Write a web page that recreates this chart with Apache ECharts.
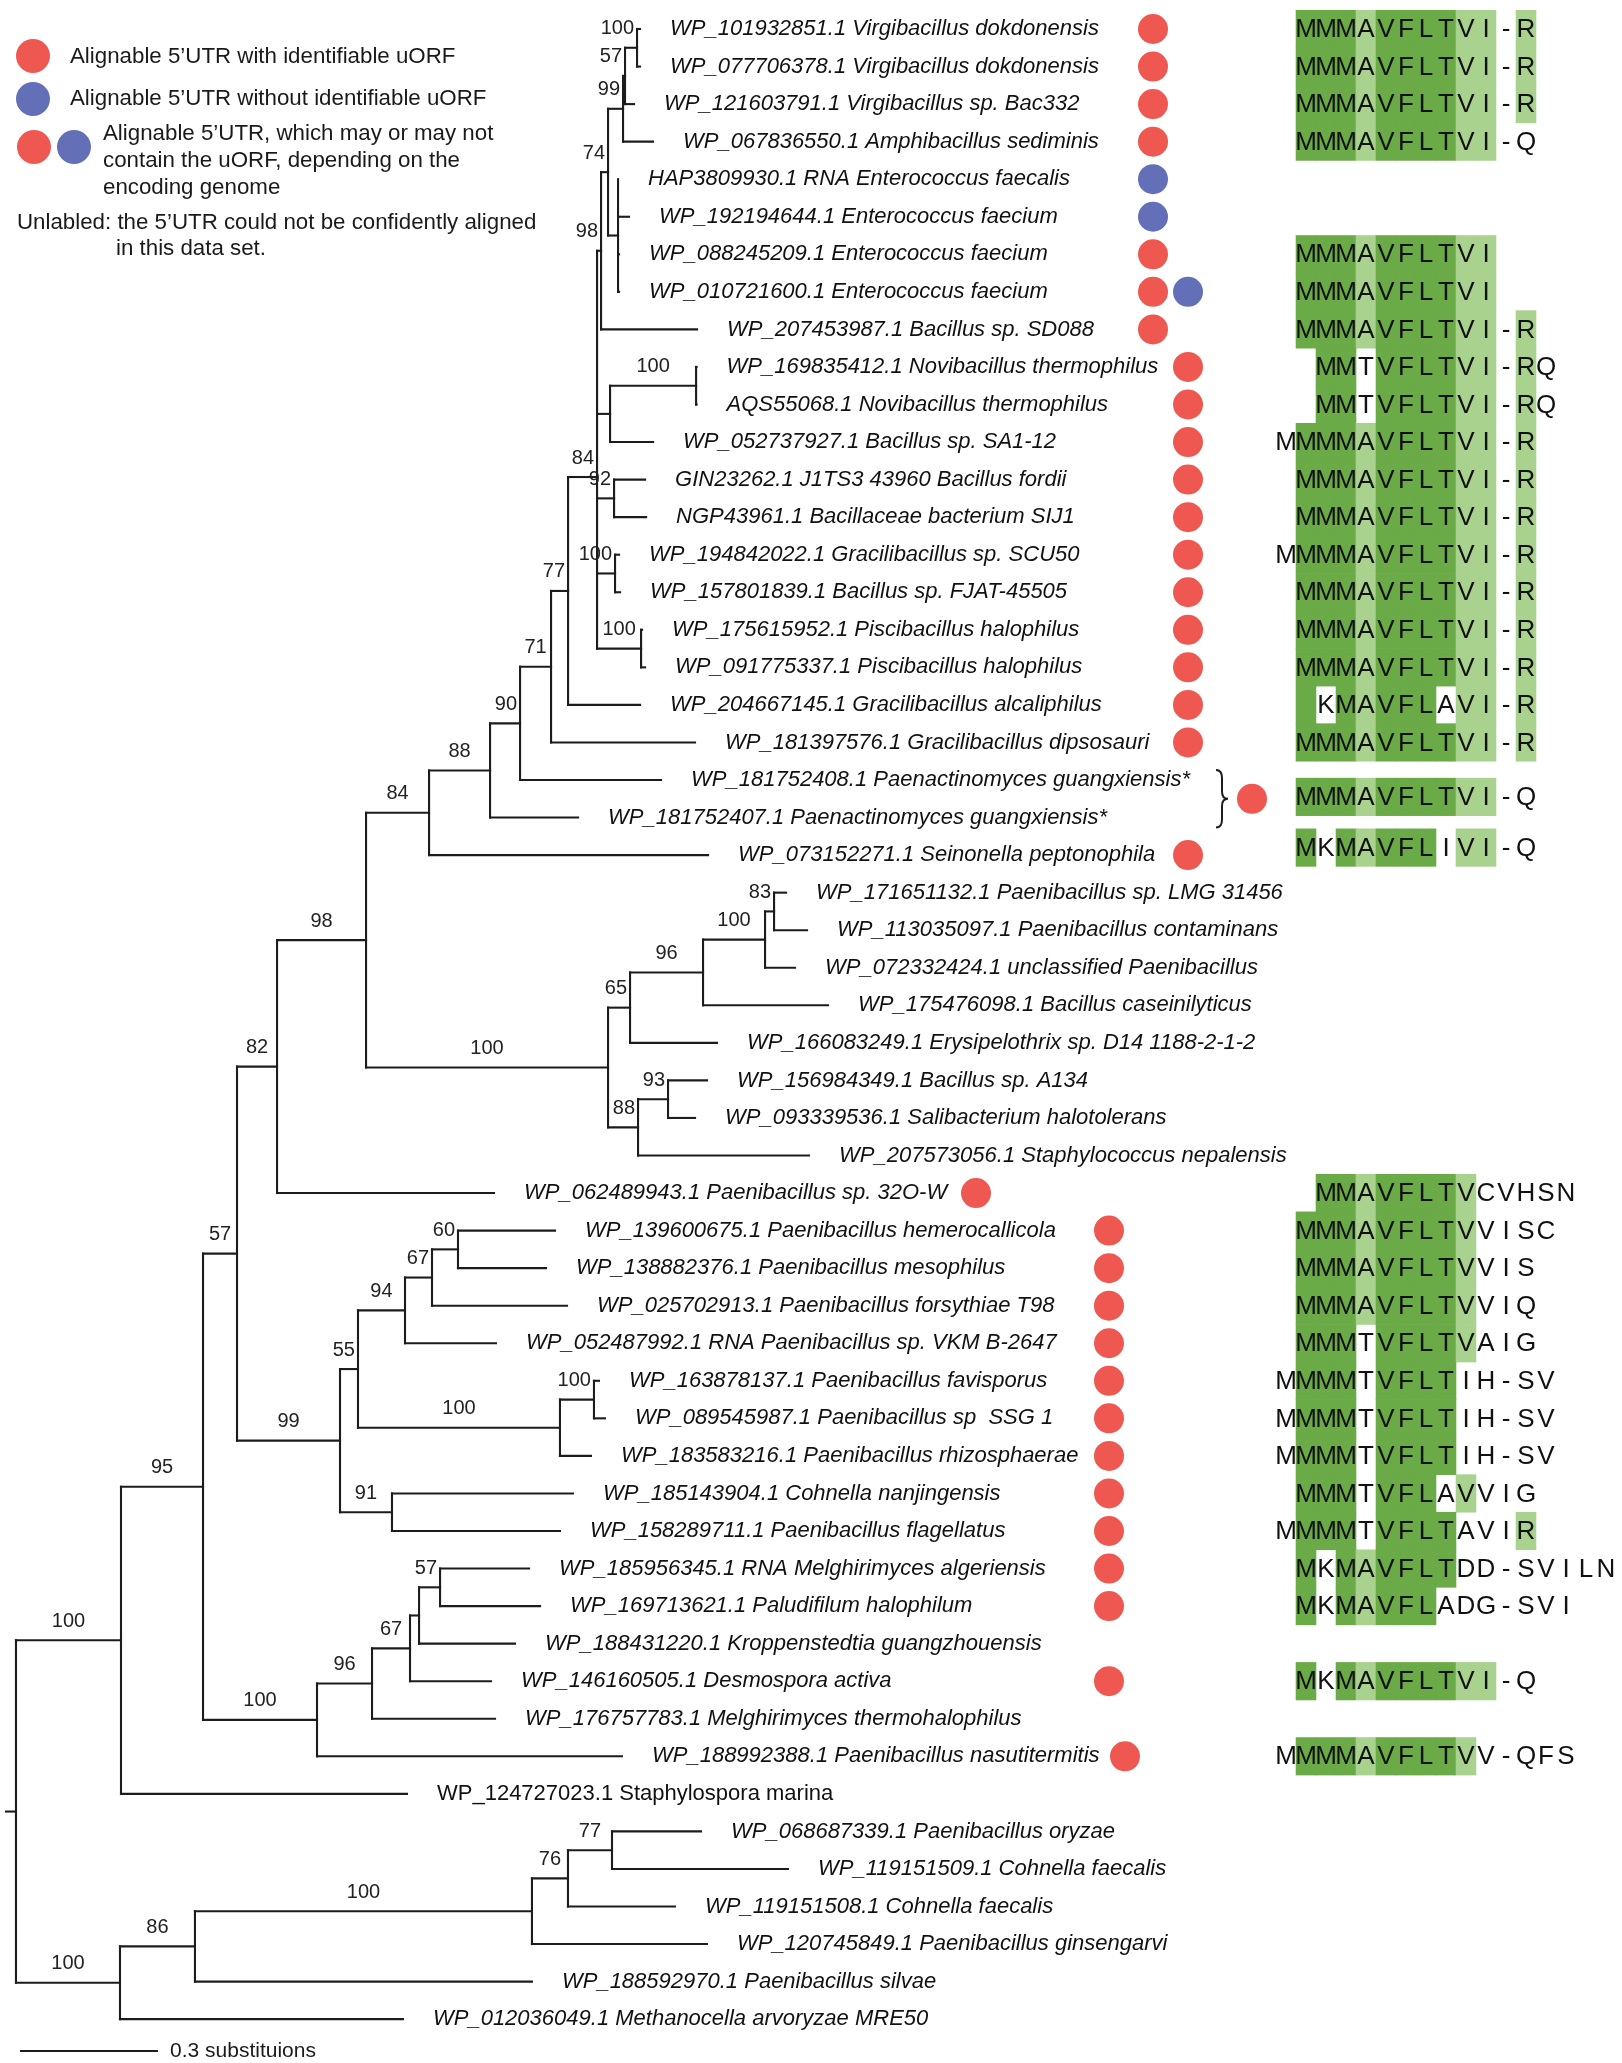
<!DOCTYPE html>
<html><head><meta charset="utf-8">
<script src="https://cdn.jsdelivr.net/npm/echarts@6/dist/echarts.min.js"></script>
<style>html,body{margin:0;padding:0;background:#fff}#chart{width:1622px;height:2063px}</style>
</head><body><div id="chart"></div>
<script>
// ===================== DATA =====================
const LEAF_NAMES = [
"WP_101932851.1 Virgibacillus dokdonensis","WP_077706378.1 Virgibacillus dokdonensis","WP_121603791.1 Virgibacillus sp. Bac332","WP_067836550.1 Amphibacillus sediminis",
"HAP3809930.1 RNA Enterococcus faecalis","WP_192194644.1 Enterococcus faecium","WP_088245209.1 Enterococcus faecium","WP_010721600.1 Enterococcus faecium",
"WP_207453987.1 Bacillus sp. SD088","WP_169835412.1 Novibacillus thermophilus","AQS55068.1 Novibacillus thermophilus","WP_052737927.1 Bacillus sp. SA1-12",
"GIN23262.1 J1TS3 43960 Bacillus fordii","NGP43961.1 Bacillaceae bacterium SIJ1","WP_194842022.1 Gracilibacillus sp. SCU50","WP_157801839.1 Bacillus sp. FJAT-45505",
"WP_175615952.1 Piscibacillus halophilus","WP_091775337.1 Piscibacillus halophilus","WP_204667145.1 Gracilibacillus alcaliphilus","WP_181397576.1 Gracilibacillus dipsosauri",
"WP_181752408.1 Paenactinomyces guangxiensis*","WP_181752407.1 Paenactinomyces guangxiensis*","WP_073152271.1 Seinonella peptonophila","WP_171651132.1 Paenibacillus sp. LMG 31456",
"WP_113035097.1 Paenibacillus contaminans","WP_072332424.1 unclassified Paenibacillus","WP_175476098.1 Bacillus caseinilyticus","WP_166083249.1 Erysipelothrix sp. D14 1188-2-1-2",
"WP_156984349.1 Bacillus sp. A134","WP_093339536.1 Salibacterium halotolerans","WP_207573056.1 Staphylococcus nepalensis","WP_062489943.1 Paenibacillus sp. 32O-W",
"WP_139600675.1 Paenibacillus hemerocallicola","WP_138882376.1 Paenibacillus mesophilus","WP_025702913.1 Paenibacillus forsythiae T98","WP_052487992.1 RNA Paenibacillus sp. VKM B-2647",
"WP_163878137.1 Paenibacillus favisporus","WP_089545987.1 Paenibacillus sp  SSG 1","WP_183583216.1 Paenibacillus rhizosphaerae","WP_185143904.1 Cohnella nanjingensis",
"WP_158289711.1 Paenibacillus flagellatus","WP_185956345.1 RNA Melghirimyces algeriensis","WP_169713621.1 Paludifilum halophilum","WP_188431220.1 Kroppenstedtia guangzhouensis",
"WP_146160505.1 Desmospora activa","WP_176757783.1 Melghirimyces thermohalophilus","WP_188992388.1 Paenibacillus nasutitermitis","WP_124727023.1 Staphylospora marina",
"WP_068687339.1 Paenibacillus oryzae","WP_119151509.1 Cohnella faecalis","WP_119151508.1 Cohnella faecalis","WP_120745849.1 Paenibacillus ginsengarvi",
"WP_188592970.1 Paenibacillus silvae","WP_012036049.1 Methanocella arvoryzae MRE50"
];
const UPRIGHT_LEAVES = [47];
// R = uORF found, B = no uORF, RB = depends on genome, '' = not aligned
const LEAF_DOTS = ['R','R','R','R','B','B','R','RB','R',
  'R','R','R','R','R','R','R','R','R','R','R',
  '','','R',
  '','','','','','','','',
  'R',
  'R','R','R','R','R','R','R','R','R','R','R',
  '','R','','R',
  '','','','','','',''];
const BRACKET_GROUPS = [{rows:[20,21], dot:'R'}];

// Tree (Newick, leaf ids = row order, internal labels = bootstrap support)
const CLADE_VIRGI = "((((0:0.0065,1:0.0065)100:0.0261,2:0.0196)57:0.0043,3:0.0652)99:0.0326,(4:0,5:0.0239,6:0.0022,7:0.0022):0.0217)74";
const CLADE_BACILL = `((${CLADE_VIRGI}:0.0152,8:0.2087)98:0.0087,((9:0.001,10:0.001)100:0.1870,11:0.0935):0.0283,(12:0.0674,13:0.0696)92:0.0370,(14:0.0087,15:0.0109)100:0.0391,(16:0.0022,17:0.0087)100:0.0957)84`;
const CLADE_77 = `(${CLADE_BACILL}:0.0630,18:0.1565)77`;
const CLADE_71 = `(${CLADE_77}:0.0370,19:0.3130)71`;
const CLADE_90 = `(${CLADE_71}:0.0674,20:0.3065)90`;
const CLADE_88 = `(${CLADE_90}:0.0652,21:0.1913)88`;
const CLADE_84 = `(${CLADE_88}:0.1326,22:0.6065)84`;
const CLADE_PAENI_A = "(((((23:0.0261,24:0.0717)83:0.0196,25:0.0652)100:0.1348,26:0.2717)96:0.1587,27:0.1891)65:0.0478,((28:0.0848,29:0.0587)93:0.0652,30:0.3717)88:0.0652)100";
const CLADE_98 = `(${CLADE_84}:0.1370,${CLADE_PAENI_A}:0.5261)98`;
const CLADE_82 = `(${CLADE_98}:0.1935,31:0.4717)82`;
const CLADE_99 = "(((((32:0.2109,33:0.1913)60:0.0565,34:0.2935)67:0.0587,35:0.1978)94:0.1022,((36:0.0109,37:0.0239)100:0.0739,38:0.0674)100:0.4391)55:0.0391,(39:0.3935,40:0.3652)91:0.1130)99";
const CLADE_57 = `(${CLADE_82}:0.0870,${CLADE_99}:0.2239)57`;
const CLADE_THERMO = "(((((41:0.1935,42:0.2174)57:0.0457,43:0.2087):0.0196,44:0.1761)67:0.0826,45:0.2674)96:0.1196,46:0.6630)100";
const CLADE_95 = `(${CLADE_57}:0.0739,${CLADE_THERMO}:0.2478)95`;
const CLADE_UPPER = `(${CLADE_95}:0.1783,47:0.6217)100`;
const CLADE_LOWER = "(((((48:0.1935,49:0.3826)77:0.0957,50:0.2326)76:0.0783,51:0.3804)100:0.7326,52:0.7326)86:0.1630,53:0.6152)100";
const TREE_NEWICK = `(${CLADE_UPPER}:0.2283,${CLADE_LOWER}:0.2261):0.0217;`;

const SCALE_BAR_LENGTH = 0.3;
const SCALE_BAR_LABEL = "0.3 substituions";

// uORF alignment (row in tree order, residues by column, conservation class D/L)
const ALIGN_ROW = [0,1,2,3,6,7,8,9,10,11,12,13,14,15,16,17,18,19,20.45,21.8,
  31,32,33,34,35,36,37,38,39,40,41,42,44,46];
const ALIGN_SEQ = [
" MMMAVFLTVI-R"," MMMAVFLTVI-R"," MMMAVFLTVI-R"," MMMAVFLTVI-Q",
" MMMAVFLTVI"," MMMAVFLTVI"," MMMAVFLTVI-R","  MMTVFLTVI-RQ","  MMTVFLTVI-RQ",
"MMMMAVFLTVI-R"," MMMAVFLTVI-R"," MMMAVFLTVI-R","MMMMAVFLTVI-R"," MMMAVFLTVI-R",
" MMMAVFLTVI-R"," MMMAVFLTVI-R","  KMAVFLAVI-R"," MMMAVFLTVI-R"," MMMAVFLTVI-Q"," MKMAVFLIVI-Q",
"  MMAVFLTVCVHSN"," MMMAVFLTVVISC"," MMMAVFLTVVIS"," MMMAVFLTVVIQ"," MMMTVFLTVAIG",
"MMMMTVFLTIH-SV","MMMMTVFLTIH-SV","MMMMTVFLTIH-SV"," MMMTVFLAVVIG","MMMMTVFLTAVIR",
" MKMAVFLTDD-SVILN"," MKMAVFLADG-SVI"," MKMAVFLTVI-Q","MMMMAVFLTVV-QFS"];
const ALIGN_CLASS = [
" DDDLDDDDLL L"," DDDLDDDDLL L"," DDDLDDDDLL L"," DDDLDDDDLL",
" DDDLDDDDLL"," DDDLDDDDLL"," DDDLDDDDLL L","  DD DDDDLL L","  DD DDDDLL L",
" DDDLDDDDLL L"," DDDLDDDDLL L"," DDDLDDDDLL L"," DDDLDDDDLL L"," DDDLDDDDLL L",
" DDDLDDDDLL L"," DDDLDDDDLL L"," D DLDDD LL L"," DDDLDDDDLL L"," DDDLDDDDLL"," D DLDDD LL",
"  DDLDDDDL"," DDDLDDDDL"," DDDLDDDDL"," DDDLDDDDL"," DDD DDDDL",
" DDD DDDD"," DDD DDDD"," DDD DDDD"," DDD DDD L"," DDD DDDD   L",
" D DLDDDD"," D DLDDD"," D DLDDDDLL"," DDDLDDDDL"];

const LEGEND_LINES = [
 "Alignable 5’UTR with identifiable uORF",
 "Alignable 5’UTR without identifiable uORF",
 "Alignable 5’UTR, which may or may not",
 "contain the uORF, depending on the",
 "encoding genome",
 "Unlabled: the 5’UTR could not be confidently aligned",
 "in this data set."];

// ===================== LAYOUT =====================
const W = 1622, H = 2063;
const PX_PER_UNIT = 460, TREE_LEFT = 6;
const ROW_H = 37.55, ROW0 = 29;
const Y_MIN = -ROW0 / ROW_H, Y_MAX = (H - ROW0) / ROW_H;
const X_MAX = (W - TREE_LEFT) / PX_PER_UNIT;
const u = px => (px - TREE_LEFT) / PX_PER_UNIT;
const ALIGN_LEFT = 1276, ALIGN_COL_W = 20, ALIGN_COLS = 17;
const RED = '#ee5850', BLUE = '#6370b8', DARK = '#6aaa47', LIGHT = '#a8d28d';
const FONT = '"Liberation Sans", Arial, Helvetica, sans-serif';
const dotColumnPx = i => i <= 8 ? 1153 : i <= 22 ? 1188 : i === 31 ? 976 : i === 46 ? 1125 : 1109;

// ===================== TREE PARSE =====================
function parseNewick(s) {
  let i = 0;
  function node() {
    const n = {children: [], label: '', length: 0};
    if (s[i] === '(') {
      i++; n.children.push(node());
      while (s[i] === ',') { i++; n.children.push(node()); }
      i++;
    }
    let lab = '';
    while (i < s.length && !',():;'.includes(s[i])) lab += s[i++];
    n.label = lab;
    if (s[i] === ':') { i++; let num = ''; while (i < s.length && !',();'.includes(s[i])) num += s[i++]; n.length = parseFloat(num); }
    return n;
  }
  return node();
}
const tree = parseNewick(TREE_NEWICK);
const SEGMENTS = [], SUPPORTS = [], TIPS = [];
(function walk(n, parentX) {
  n.x = parentX + n.length;
  if (n.children.length) {
    n.children.forEach(c => walk(c, n.x));
    n.y = n.children.reduce((s, c) => s + c.y, 0) / n.children.length;
    SEGMENTS.push([n.x, n.children[0].y, n.x, n.children[n.children.length - 1].y]);
    if (n.label) SUPPORTS.push({px: parentX, x: n.x, y: n.y, label: n.label});
  } else {
    n.y = +n.label;
    TIPS.push({x: n.x, leaf: +n.label});
  }
  SEGMENTS.push([parentX, n.y, n.x, n.y]);
})(tree, 0);

// dots
const redDots = [], blueDots = [];
LEAF_DOTS.forEach((d, i) => {
  const x = dotColumnPx(i);
  if (d === 'R') redDots.push([u(x), i]);
  if (d === 'B') blueDots.push([u(x), i]);
  if (d === 'RB') { redDots.push([u(x), i]); blueDots.push([u(x + 35), i]); }
});
const BRACKETS = BRACKET_GROUPS.map(g => {
  const mid = (g.rows[0] + g.rows[g.rows.length - 1]) / 2;
  if (g.dot === 'R') redDots.push([u(1252), mid]);
  return [u(1221), mid, (g.rows[g.rows.length - 1] - g.rows[0])];
});

// alignment cells
const CELLS = [];
ALIGN_SEQ.forEach((seq, k) => {
  const cls = ALIGN_CLASS[k];
  for (let c = 0; c < Math.max(seq.length, cls.length); c++) {
    const ch = seq[c] || ' ', sh = cls[c] || ' ';
    if (ch !== ' ' || sh !== ' ') CELLS.push([c, ALIGN_ROW[k], ch, sh]);
  }
});

// ===================== CHART =====================
const chart = echarts.init(document.getElementById('chart'), null, {renderer: 'canvas', width: W, height: H});
const yAxisBase = {type: 'value', min: Y_MIN, max: Y_MAX, inverse: true, show: false};
const option = {
  backgroundColor: '#ffffff',
  animation: false,
  grid: [
    {left: TREE_LEFT, right: 0, top: 0, bottom: 0, containLabel: false},
    {left: ALIGN_LEFT, width: ALIGN_COL_W * ALIGN_COLS, top: 0, bottom: 0, containLabel: false}
  ],
  xAxis: [
    {type: 'value', min: 0, max: X_MAX, show: false, gridIndex: 0},
    {type: 'value', min: 0, max: ALIGN_COLS, show: false, gridIndex: 1}
  ],
  yAxis: [Object.assign({gridIndex: 0}, yAxisBase), Object.assign({gridIndex: 1}, yAxisBase)],
  graphic: {elements: [
    {type: 'circle', shape: {cx: 33, cy: 56, r: 17}, style: {fill: RED}},
    {type: 'circle', shape: {cx: 33, cy: 99, r: 17}, style: {fill: BLUE}},
    {type: 'circle', shape: {cx: 34, cy: 147, r: 17}, style: {fill: RED}},
    {type: 'circle', shape: {cx: 74, cy: 147, r: 17}, style: {fill: BLUE}},
    ...[[70, 57], [70, 99], [103, 134], [103, 161], [103, 188], [17, 223], [116, 249]].map((p, k) => ({
      type: 'text', x: p[0], y: p[1],
      style: {text: LEGEND_LINES[k], fontSize: 22.3, fontFamily: FONT, fill: '#1a1a1a', align: 'left', verticalAlign: 'middle'}
    }))
  ]},
  series: [
    { type: 'custom', name: 'branches', xAxisIndex: 0, yAxisIndex: 0, silent: true, clip: false,
      data: SEGMENTS, encode: {x: [0, 2], y: [1, 3]},
      renderItem: (p, api) => {
        const s = SEGMENTS[p.dataIndex];
        const a = api.coord([s[0], s[1]]), b = api.coord([s[2], s[3]]);
        return {type: 'line', shape: {x1: a[0], y1: a[1], x2: b[0], y2: b[1]},
          style: {stroke: '#1c1c1c', lineWidth: 2.1, lineCap: 'square'}};
      }},
    { type: 'custom', name: 'support', xAxisIndex: 0, yAxisIndex: 0, silent: true, clip: false,
      data: SUPPORTS.map(s => [s.x, s.y]), encode: {x: 0, y: 1},
      renderItem: (p, api) => {
        const s = SUPPORTS[p.dataIndex];
        const a = api.coord([s.px, s.y]), b = api.coord([s.x, s.y]);
        const tw = s.label.length * 0.556 * 20;
        const len = b[0] - a[0];
        const cx = len >= tw + 8 ? (a[0] + b[0]) / 2 : b[0] - 3 - tw / 2;
        return {type: 'text', x: cx, y: b[1] - 19,
          style: {text: s.label, fontSize: 20, fontFamily: FONT, fill: '#222', align: 'center', verticalAlign: 'middle'}};
      }},
    { type: 'custom', name: 'tips', xAxisIndex: 0, yAxisIndex: 0, silent: true, clip: false,
      data: TIPS.map(t => [t.x, t.leaf]), encode: {x: 0, y: 1},
      renderItem: (p, api) => {
        const t = TIPS[p.dataIndex];
        const a = api.coord([t.x, t.leaf]);
        return {type: 'text', x: a[0] + 30, y: a[1],
          style: {text: LEAF_NAMES[t.leaf], fontSize: 22, fontFamily: FONT,
            fontStyle: UPRIGHT_LEAVES.includes(t.leaf) ? 'normal' : 'italic',
            fill: '#111', align: 'left', verticalAlign: 'middle'}};
      }},
    { type: 'scatter', name: 'uORF', xAxisIndex: 0, yAxisIndex: 0, silent: true,
      symbol: 'circle', symbolSize: 30, itemStyle: {color: RED, opacity: 1}, data: redDots },
    { type: 'scatter', name: 'no uORF', xAxisIndex: 0, yAxisIndex: 0, silent: true,
      symbol: 'circle', symbolSize: 30, itemStyle: {color: BLUE, opacity: 1}, data: blueDots },
    { type: 'custom', name: 'bracket', xAxisIndex: 0, yAxisIndex: 0, silent: true, clip: false,
      data: BRACKETS, encode: {x: 0, y: 1},
      renderItem: (p, api) => {
        const b = BRACKETS[p.dataIndex];
        const c = api.coord([b[0], b[1]]);
        const h = (api.coord([b[0], b[1] + b[2] / 2])[1] - c[1]) + 10;
        return {type: 'path', x: c[0], y: c[1],
          shape: {pathData: `M-5,${-h} Q1,${-h} 1,${-h + 8} L1,-7 Q1,0 7,0 Q1,0 1,7 L1,${h - 8} Q1,${h} -5,${h}`},
          style: {fill: 'none', stroke: '#1c1c1c', lineWidth: 2}};
      }},
    { type: 'custom', name: 'scalebar', xAxisIndex: 0, yAxisIndex: 0, silent: true, clip: false,
      data: [[u(20), (2051 - ROW0) / ROW_H]], encode: {x: 0, y: 1},
      renderItem: (p, api) => {
        const a = api.coord([api.value(0), api.value(1)]);
        const b = api.coord([api.value(0) + SCALE_BAR_LENGTH, api.value(1)]);
        return {type: 'group', children: [
          {type: 'line', shape: {x1: a[0], y1: a[1], x2: b[0], y2: b[1]}, style: {stroke: '#1c1c1c', lineWidth: 2.2}},
          {type: 'text', x: b[0] + 12, y: a[1], style: {text: SCALE_BAR_LABEL, fontSize: 21, fontFamily: FONT, fill: '#1a1a1a', align: 'left', verticalAlign: 'middle'}}
        ]};
      }},
    { type: 'custom', name: 'alignment', xAxisIndex: 1, yAxisIndex: 1, silent: true, clip: false,
      data: CELLS.map(c => [c[0], c[1]]), encode: {x: 0, y: 1},
      renderItem: (p, api) => {
        const c = CELLS[p.dataIndex];
        const tl = api.coord([c[0], c[1] - 0.5]), br = api.coord([c[0] + 1, c[1] + 0.5]);
        const ch = [];
        if (c[3] !== ' ') ch.push({type: 'rect', shape: {x: tl[0] - 0.3, y: tl[1] - 0.3, width: br[0] - tl[0] + 0.6, height: br[1] - tl[1] + 0.6},
          style: {fill: c[3] === 'D' ? DARK : LIGHT}});
        if (c[2] !== ' ') ch.push({type: 'text', x: (tl[0] + br[0]) / 2, y: (tl[1] + br[1]) / 2 + 1,
          style: {text: c[2], fontSize: 26, fontFamily: FONT, fill: '#111', align: 'center', verticalAlign: 'middle'}});
        return {type: 'group', children: ch};
      }}
  ]
};
chart.setOption(option);
</script>
</body></html>
